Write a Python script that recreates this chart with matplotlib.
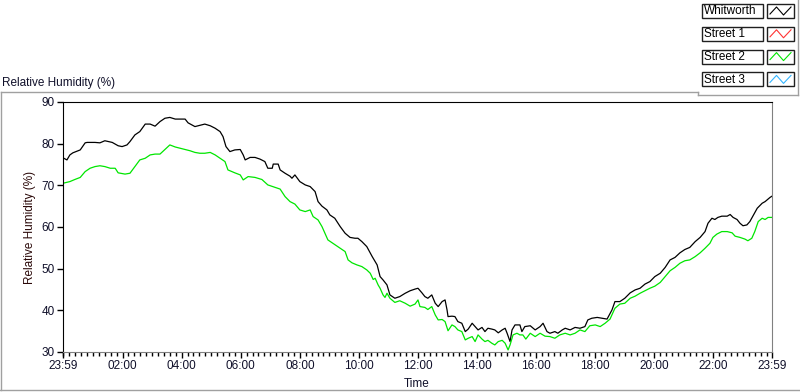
import matplotlib
matplotlib.use("Agg")
import matplotlib.pyplot as plt
from matplotlib.lines import Line2D
from matplotlib.patches import Rectangle
from matplotlib.ticker import FixedLocator, MultipleLocator

W, H = 800, 392

# time in minutes from midnight, record runs 23:59 (prev day) -> 23:59
whit_t = [-1, 7, 13, 19, 34, 44, 48, 64, 74, 84, 99, 111, 119, 129, 135, 145, 155, 166,
          176, 186, 196, 206, 216, 227, 247, 253, 267, 277, 287, 298, 308, 318, 324, 330,
          338, 348, 359, 365, 369, 379, 389, 399, 409, 415, 424, 426, 436, 440, 450, 460,
          464, 470, 480, 491, 501, 511, 517, 525, 535, 541, 551, 562, 572, 582, 592, 598,
          606, 616, 627, 637, 643, 649, 657, 663, 673, 683, 694, 704, 714, 720, 728, 734,
          740, 748, 755, 761, 769, 775, 779, 781, 789, 795, 801, 809, 816, 822, 830, 836,
          842, 850, 856, 862, 870, 876, 883, 891, 897, 901, 907, 911, 917, 927, 931, 937,
          948, 958, 968, 974, 982, 988, 998, 1004, 1013, 1019, 1029, 1039, 1049, 1059,
          1065, 1073, 1084, 1094, 1104, 1114, 1120, 1130, 1140, 1151, 1161, 1171, 1181,
          1191, 1201, 1212, 1222, 1232, 1242, 1252, 1262, 1272, 1283, 1293, 1303, 1309,
          1317, 1323, 1329, 1337, 1348, 1354, 1360, 1368, 1374, 1380, 1388, 1394, 1400,
          1409, 1419, 1425, 1435, 1439]
whit_rh = [76.6, 76.1, 77.3, 77.8, 78.5, 80.2, 80.3, 80.3, 80.2, 80.7, 80.3, 79.5, 79.3,
           79.7, 80.5, 82.1, 82.9, 84.7, 84.7, 84.2, 85.3, 86.1, 86.3, 85.9, 85.9, 85.0,
           84.1, 84.4, 84.7, 84.3, 83.7, 82.9, 81.7, 79.3, 78.1, 78.5, 78.6, 77.3, 76.1,
           76.7, 76.7, 76.3, 75.7, 74.1, 74.1, 75.1, 75.1, 73.7, 72.9, 72.2, 71.7, 72.5,
           70.9, 70.1, 69.7, 68.5, 66.1, 65.0, 64.1, 62.9, 62.1, 60.1, 58.5, 57.5, 57.3,
           57.3, 56.5, 55.3, 52.9, 50.9, 48.1, 47.3, 46.1, 43.7, 42.9, 43.3, 44.1, 44.7,
           45.1, 45.3, 44.2, 43.3, 42.9, 43.7, 41.7, 40.9, 42.1, 42.5, 40.1, 38.5, 38.6,
           38.5, 37.3, 36.9, 34.9, 35.5, 36.9, 36.1, 35.3, 35.9, 34.9, 35.7, 35.5, 35.3,
           34.6, 35.3, 35.7, 34.5, 32.5, 35.3, 36.5, 36.5, 34.9, 36.1, 36.3, 35.3, 36.1,
           36.9, 34.9, 34.5, 34.9, 34.5, 35.3, 35.7, 35.3, 35.9, 35.7, 36.1, 37.7, 38.1,
           38.3, 38.1, 37.9, 40.1, 42.1, 42.1, 42.9, 44.2, 44.9, 45.3, 46.3, 46.9, 48.1,
           48.9, 50.3, 52.1, 52.7, 53.8, 54.6, 55.1, 56.5, 57.5, 58.9, 60.9, 62.1, 61.8,
           62.3, 62.6, 62.6, 63.0, 62.3, 61.8, 60.9, 60.3, 60.5, 61.3, 62.6, 64.5, 65.7,
           66.1, 67.1, 67.4]

st2_t = [-1, 13, 23, 34, 44, 54, 64, 74, 84, 95, 105, 111, 125, 135, 145, 155, 166, 176,
         186, 196, 206, 216, 227, 247, 257, 267, 277, 287, 298, 308, 318, 328, 334, 348,
         359, 365, 375, 389, 403, 415, 430, 440, 450, 460, 470, 480, 491, 501, 507, 517,
         525, 531, 537, 547, 562, 572, 578, 586, 596, 606, 616, 623, 629, 633, 639, 643,
         649, 653, 657, 663, 673, 683, 694, 704, 714, 720, 724, 734, 740, 748, 755, 761,
         769, 775, 781, 789, 795, 801, 809, 816, 822, 830, 836, 842, 850, 856, 862, 870,
         876, 883, 891, 897, 903, 907, 913, 921, 927, 933, 939, 948, 958, 968, 978, 988,
         998, 1008, 1019, 1029, 1039, 1049, 1059, 1069, 1080, 1090, 1100, 1110, 1120,
         1130, 1140, 1151, 1161, 1171, 1181, 1191, 1201, 1212, 1222, 1232, 1242, 1252,
         1262, 1272, 1283, 1293, 1303, 1313, 1319, 1327, 1337, 1348, 1358, 1364, 1374,
         1384, 1390, 1398, 1404, 1411, 1419, 1425, 1431, 1439]
st2_rh = [70.5, 70.9, 71.4, 71.9, 73.3, 74.1, 74.5, 74.7, 74.5, 74.1, 74.1, 73.0, 72.7,
          72.9, 74.5, 76.1, 76.5, 77.3, 77.5, 77.5, 78.6, 79.7, 79.2, 78.6, 78.3, 77.9,
          77.7, 77.7, 77.9, 77.3, 76.5, 75.7, 73.7, 73.0, 72.5, 71.3, 72.1, 71.9, 71.4,
          70.1, 69.5, 69.1, 67.3, 66.1, 65.5, 64.1, 63.7, 64.1, 62.5, 61.7, 60.1, 58.5,
          56.9, 56.1, 54.9, 54.1, 52.1, 51.4, 50.9, 50.5, 49.7, 48.9, 47.4, 47.7, 46.1,
          45.3, 43.7, 43.1, 44.1, 42.9, 41.9, 42.3, 41.7, 41.0, 41.5, 42.5, 40.9, 40.7,
          40.2, 40.9, 38.9, 37.7, 37.8, 37.3, 35.1, 36.5, 36.1, 35.3, 34.9, 32.9, 33.3,
          33.7, 32.5, 34.1, 33.1, 32.5, 32.8, 32.1, 31.7, 32.5, 32.8, 32.1, 30.5, 31.7,
          34.1, 34.5, 34.1, 34.1, 33.1, 34.5, 33.7, 34.5, 33.8, 33.7, 33.3, 34.1, 34.5,
          34.1, 34.5, 35.3, 34.9, 36.3, 36.5, 36.1, 36.9, 37.9, 40.5, 41.5, 41.7, 42.9,
          43.4, 44.1, 44.7, 45.3, 45.8, 46.7, 48.1, 49.5, 50.3, 51.3, 51.9, 52.1, 52.9,
          53.8, 54.9, 56.1, 57.5, 58.3, 58.9, 58.9, 58.6, 57.8, 57.5, 57.1, 56.7, 57.3,
          58.9, 61.3, 62.1, 61.8, 62.3, 62.3]

plot_names = ["Whitworth", "Street 1", "Street 2", "Street 3"]
plot_colors = ["#000000", "#ff3333", "#00e600", "#33b5ff"]

x_ticks = [-1, 120, 240, 360, 480, 600, 720, 840, 960, 1080, 1200, 1320, 1439]
x_labels = ["23:59", "02:00", "04:00", "06:00", "08:00", "10:00", "12:00",
            "14:00", "16:00", "18:00", "20:00", "22:00", "23:59"]
y_ticks = [30, 40, 50, 60, 70, 80, 90]

plt.rcParams["font.family"] = ["Liberation Sans", "DejaVu Sans"]
plt.rcParams["font.size"] = 8.5

GRAY = "#a0a0a0"
TXT = "#10102a"
FS = 8.5


def fx(px):
    return px / W


def fy(py):
    return 1 - py / H


fig = plt.figure(figsize=(W / 100, H / 100), dpi=100, facecolor="white")

# outer frame of the graph
for (x0, y0), (x1, y1) in [((1, 92), (698, 92)), ((1, 92), (1, 390)), ((0, 390), (800, 390)),
                           ((698, 92), (698, 95)), ((698, 95), (798, 95)), ((798, 0), (798, 95))]:
    fig.add_artist(Line2D([fx(x0), fx(x1)], [fy(y0), fy(y1)], color=GRAY, lw=1))

fig.text(fx(2), fy(83), "Relative Humidity (%)", ha="left", va="center", fontsize=FS, color=TXT)

ax = fig.add_axes([fx(63), fy(352), fx(772 - 63), (352 - 102) / H])
ax.plot(whit_t, whit_rh, color=plot_colors[0], lw=0.9)
ax.plot(st2_t, st2_rh, color=plot_colors[2], lw=0.9)

ax.set_xlim(-1, 1439)
ax.set_ylim(30, 90)
ax.xaxis.set_major_locator(FixedLocator(x_ticks))
ax.set_xticklabels(x_labels)
ax.xaxis.set_minor_locator(MultipleLocator(12))
ax.set_yticks(y_ticks)

ax.tick_params(axis="both", which="major", direction="out", length=4, width=1,
               labelsize=FS, labelcolor=TXT, pad=2)
ax.tick_params(axis="x", which="minor", direction="out", length=3, width=1)
for side in ("left", "top"):
    ax.spines[side].set_color("black")
for side in ("right", "bottom"):
    ax.spines[side].set_color("#808080")

fig.text(fx(417), fy(384), "Time", ha="center", va="center", fontsize=FS, color=TXT)
fig.text(fx(30), fy(227), "Relative Humidity (%)", ha="center", va="center",
         rotation=90, fontsize=FS, color="#2a0808")

# plot legend (top right)
for i, (name, col) in enumerate(zip(plot_names, plot_colors)):
    top = 4 + i * 22.8
    fig.add_artist(Rectangle((fx(702), fy(top + 14)), fx(61), 14 / H, fc="white",
                             ec="#202020", lw=1))
    fig.text(fx(704), fy(top + 7.5), name, ha="left", va="center", fontsize=FS, color="black")
    fig.add_artist(Rectangle((fx(767), fy(top + 14)), fx(27), 14 / H, fc="white",
                             ec="#202020", lw=1))
    sx = [770, 776.5, 783.5, 791]
    sy = [top + 10, top + 3, top + 11, top + 3]
    fig.add_artist(Line2D([fx(v) for v in sx], [fy(v) for v in sy], color=col, lw=0.8))

fig.savefig("out.png", dpi=100, facecolor="white")
